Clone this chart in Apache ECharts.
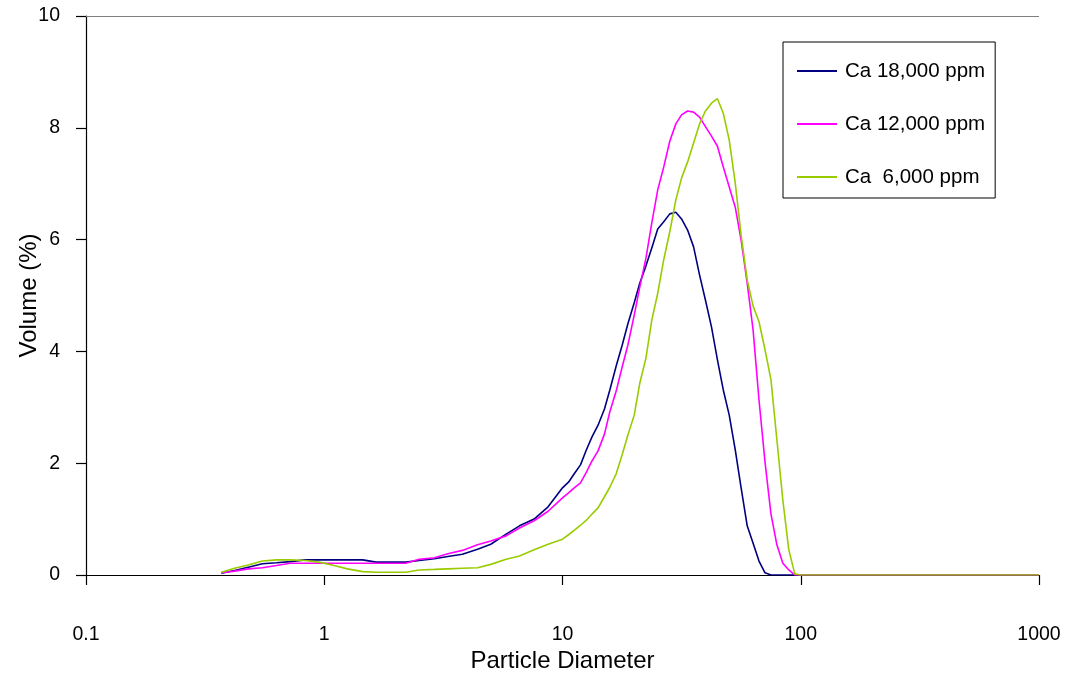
<!DOCTYPE html>
<html>
<head>
<meta charset="utf-8">
<title>Particle size distribution</title>
<script src="https://cdn.jsdelivr.net/npm/echarts@6/dist/echarts.min.js"></script>
<style>
  html, body { margin: 0; padding: 0; background: #ffffff; }
  #chart { width: 1072px; height: 675px; }
</style>
</head>
<body>
<div id="chart"></div>
<script>
// Particle diameters (log-spaced bins)
const diameters = [
  0.37, 0.42, 0.48, 0.55, 0.63, 0.72, 0.83, 0.95, 1.1, 1.25, 1.45, 1.65,
  1.9, 2.2, 2.5, 2.9, 3.3, 3.8, 4.4, 5.0, 5.8, 6.6, 7.6, 8.7,
  10, 10.6, 11.2, 11.9, 12.6, 13.3, 14.1, 15.0, 15.8, 16.8, 17.8, 18.8,
  20.0, 21.1, 22.4, 23.7, 25.1, 26.6, 28.2, 29.9, 31.6, 33.5, 35.5, 37.6,
  39.8, 42.2, 44.7, 47.3, 50.1, 53.1, 56.2, 59.6, 63.1, 66.8, 70.8, 75.0,
  79.4, 84.1, 89.1, 94.4, 100, 1000
];

// Volume (%) per bin
const ca18000 = [
  0.03, 0.08, 0.14, 0.20, 0.22, 0.24, 0.27, 0.27, 0.27, 0.27, 0.27, 0.23,
  0.23, 0.23, 0.26, 0.29, 0.33, 0.37, 0.46, 0.55, 0.73, 0.88, 1.00, 1.22,
  1.56, 1.66, 1.81, 1.97, 2.24, 2.47, 2.68, 2.97, 3.31, 3.74, 4.11, 4.49,
  4.87, 5.22, 5.53, 5.85, 6.19, 6.32, 6.46, 6.49, 6.37, 6.17, 5.87, 5.37,
  4.92, 4.44, 3.85, 3.31, 2.86, 2.24, 1.56, 0.88, 0.57, 0.25, 0.04, 0,
  0, 0, 0, 0, 0, 0
];
const ca12000 = [
  0.04, 0.07, 0.11, 0.13, 0.17, 0.21, 0.21, 0.21, 0.21, 0.21, 0.21, 0.21,
  0.21, 0.21, 0.28, 0.31, 0.38, 0.44, 0.54, 0.61, 0.70, 0.84, 0.97, 1.14,
  1.38, 1.47, 1.56, 1.65, 1.84, 2.04, 2.22, 2.52, 2.92, 3.29, 3.72, 4.11,
  4.65, 5.15, 5.67, 6.30, 6.89, 7.30, 7.76, 8.07, 8.23, 8.30, 8.28, 8.19,
  8.02, 7.85, 7.67, 7.30, 6.94, 6.58, 5.99, 5.22, 4.38, 3.13, 2.02, 1.09,
  0.54, 0.21, 0.09, 0, 0, 0
];
const ca6000 = [
  0.05, 0.12, 0.18, 0.25, 0.27, 0.27, 0.26, 0.23, 0.17, 0.11, 0.06, 0.05,
  0.05, 0.05, 0.09, 0.10, 0.11, 0.12, 0.13, 0.19, 0.28, 0.34, 0.45, 0.55,
  0.64, 0.72, 0.80, 0.89, 0.98, 1.09, 1.20, 1.40, 1.57, 1.81, 2.15, 2.50,
  2.86, 3.43, 3.88, 4.56, 5.04, 5.64, 6.14, 6.71, 7.10, 7.39, 7.73, 8.07,
  8.30, 8.44, 8.52, 8.26, 7.78, 7.01, 6.08, 5.28, 4.81, 4.53, 4.03, 3.49,
  2.42, 1.34, 0.45, 0.02, 0, 0
];

const seriesNames = ['Ca 18,000 ppm', 'Ca 12,000 ppm', 'Ca  6,000 ppm'];
const seriesColors = ['#000080', '#ff00ff', '#99cc00'];
const seriesValues = [ca18000, ca12000, ca6000];

const FONT = '"Liberation Sans", Arial, sans-serif';

function pairs(values) {
  return diameters.map((d, i) => [d, values[i]]);
}

const chart = echarts.init(document.getElementById('chart'), null, { renderer: 'canvas' });

const series = seriesNames.map((name, i) => ({
  name: name,
  type: 'line',
  data: pairs(seriesValues[i]),
  symbol: 'none',
  smooth: false,
  animation: false,
  lineStyle: { color: seriesColors[i], width: 1.6 },
  itemStyle: { color: seriesColors[i] },
  z: 3
}));

// thin grey rule along the top of the plot
series[0].markLine = {
  silent: true,
  symbol: 'none',
  label: { show: false },
  lineStyle: { color: '#808080', width: 1.2, type: 'solid' },
  data: [{ yAxis: 10 }],
  animation: false
};

chart.setOption({
  backgroundColor: '#ffffff',
  animation: false,
  grid: {
    left: 86, right: 33, top: 16, bottom: 100,
    containLabel: false,
    outerBoundsMode: 'none'
  },
  legend: {
    orient: 'vertical',
    left: 783,
    top: 42,
    data: seriesNames,
    icon: 'rect',
    backgroundColor: '#ffffff',
    borderColor: '#000000',
    borderWidth: 1,
    borderRadius: 0,
    padding: [18, 10, 10, 14],
    itemWidth: 40,
    itemHeight: 2,
    itemGap: 31,
    selectedMode: false,
    textStyle: {
      fontFamily: FONT, fontSize: 20.5, lineHeight: 22, color: '#000000',
      padding: [0, 0, 0, 3]
    }
  },
  xAxis: {
    type: 'log',
    logBase: 10,
    min: 0.1,
    max: 1000,
    name: 'Particle Diameter',
    nameLocation: 'middle',
    nameGap: 74,
    nameMoveOverlap: false,
    nameTextStyle: { fontFamily: FONT, fontSize: 24, color: '#000000' },
    axisLine: { show: true, onZero: false, lineStyle: { color: '#000000', width: 1.2 } },
    axisTick: { show: true, inside: false, length: 10, lineStyle: { color: '#000000', width: 1.2 } },
    minorTick: { show: false },
    splitLine: { show: false },
    axisLabel: {
      fontFamily: FONT, fontSize: 19.5, color: '#000000', margin: 50,
      formatter: function (v) { return String(+v.toPrecision(3)); }
    }
  },
  yAxis: {
    type: 'value',
    min: 0,
    max: 10,
    interval: 2,
    name: 'Volume (%)',
    nameLocation: 'middle',
    nameGap: 45,
    nameRotate: 90,
    nameMoveOverlap: false,
    nameTextStyle: { fontFamily: FONT, fontSize: 24, color: '#000000' },
    axisLine: { show: true, lineStyle: { color: '#000000', width: 1.2 } },
    axisTick: { show: true, inside: false, length: 10, lineStyle: { color: '#000000', width: 1.2 } },
    splitLine: { show: false },
    axisLabel: { fontFamily: FONT, fontSize: 19.5, color: '#000000', margin: 26 }
  },
  series: series
});
</script>
</body>
</html>
